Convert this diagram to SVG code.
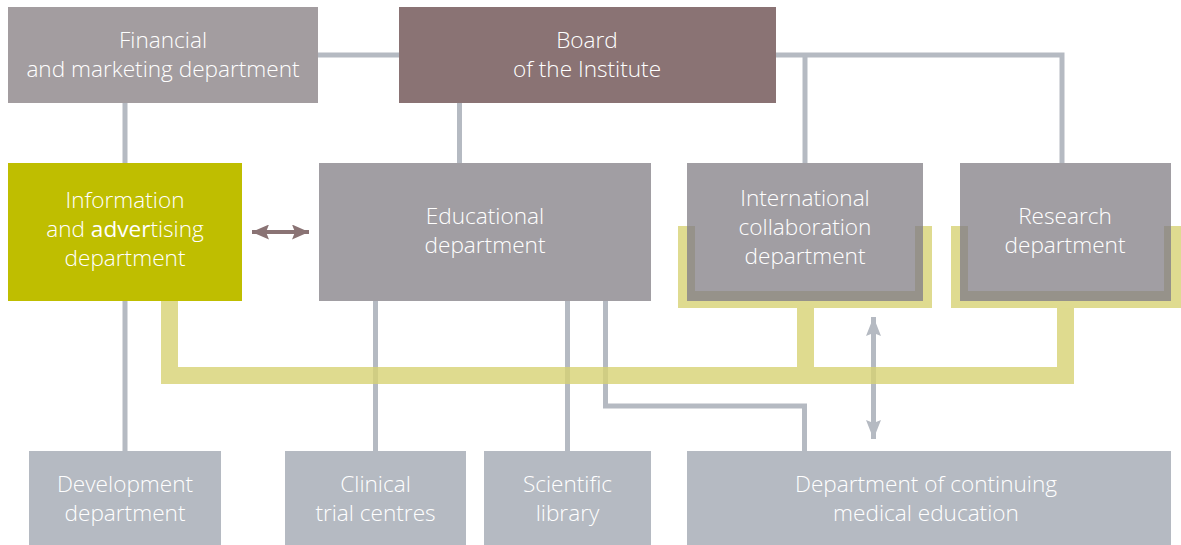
<svg xmlns="http://www.w3.org/2000/svg" width="1181" height="545" viewBox="0 0 1181 545">
<style>
.t{font-family:"Open Sans","Noto Sans","DejaVu Sans",sans-serif;font-size:22.6px;font-weight:350;fill:#ffffff;text-anchor:middle}
.g{stroke:#b5bac2;stroke-width:5;fill:none}
.mid{fill:#a19ea3}
.bot{fill:#b5bac2}
.yel{fill:#dfdb90}
.ov{fill:#96928a}
</style>
<defs>
<marker id="ag" viewBox="0 0 19 15" markerWidth="19" markerHeight="15" refX="19" refY="7.5" orient="auto-start-reverse" markerUnits="userSpaceOnUse">
<path d="M0,0 L19,7.5 L0,15 L3,7.5 Z" fill="#b5bac2"/>
</marker>
<marker id="ab" viewBox="0 0 17 15" markerWidth="17" markerHeight="15" refX="17" refY="7.5" orient="auto-start-reverse" markerUnits="userSpaceOnUse">
<path d="M0,0 L17,7.5 L0,15 L3,7.5 Z" fill="#8a7374"/>
</marker>
</defs>
<rect width="1181" height="545" fill="#ffffff"/>
<g id="connectors">
<path class="g" d="M318,55 H399"/>
<path class="g" d="M776,55 H1062 V163"/>
<path class="g" d="M805,55 V163"/>
<path class="g" d="M125,103 V451"/>
<path class="g" d="M459.5,103 V163"/>
<path class="g" d="M375.5,301 V451"/>
<path class="g" d="M567.5,301 V451"/>
<path class="g" d="M605.5,301 V406 H804.5 V451"/>
<path class="g" d="M873.5,317 V439" marker-start="url(#ag)" marker-end="url(#ag)"/>
<path d="M252,232 H309" stroke="#8a7374" stroke-width="4" fill="none" marker-start="url(#ab)" marker-end="url(#ab)"/>
<path d="M169.5,301 V375.5 H1065.5 V308" stroke="#d7d273" stroke-width="17" fill="none" opacity="0.8" stroke-linejoin="miter"/>
<rect x="797" y="308" width="17" height="59" fill="#d7d273" opacity="0.8"/>
</g>
<g id="frames">
<path class="yel" fill-rule="evenodd" d="M678,226 H932 V308 H678 Z M695,226 V291 H915 V226 Z"/>
<path class="yel" fill-rule="evenodd" d="M951,226 H1181 V308 H951 Z M968,226 V291 H1164 V226 Z"/>
</g>
<g id="financial">
<rect x="8" y="7" width="310" height="96" fill="#a39da0"/>
<text class="t" x="163" y="48">Financial</text>
<text class="t" x="163" y="77">and marketing department</text>
</g>
<g id="board">
<rect x="399" y="7" width="377" height="96" fill="#8a7374"/>
<text class="t" x="587" y="48">Board</text>
<text class="t" x="587" y="77">of the Institute</text>
</g>
<g id="information">
<rect x="8" y="163" width="234" height="138" fill="#bfbe00"/>
<text class="t" x="125" y="208">Information</text>
<text class="t" x="125" y="237">and <tspan font-weight="500">adver</tspan>tising</text>
<text class="t" x="125" y="266">department</text>
</g>
<g id="educational">
<rect class="mid" x="319" y="163" width="332" height="138"/>
<text class="t" x="485" y="224">Educational</text>
<text class="t" x="485" y="253">department</text>
</g>
<g id="international">
<rect class="mid" x="687" y="163" width="236" height="138"/>
<path class="ov" d="M687,226 H695 V291 H915 V226 H923 V301 H687 Z"/>
<text class="t" x="805" y="206">International</text>
<text class="t" x="805" y="235">collaboration</text>
<text class="t" x="805" y="264">department</text>
</g>
<g id="research">
<rect class="mid" x="960" y="163" width="211" height="138"/>
<path class="ov" d="M960,226 H968 V291 H1164 V226 H1171 V301 H960 Z"/>
<text class="t" x="1065" y="224">Research</text>
<text class="t" x="1065" y="253">department</text>
</g>
<g id="development">
<rect class="bot" x="29" y="451" width="192" height="94"/>
<text class="t" x="125" y="492">Development</text>
<text class="t" x="125" y="521">department</text>
</g>
<g id="clinical">
<rect class="bot" x="285" y="451" width="181" height="94"/>
<text class="t" x="375.5" y="492">Clinical</text>
<text class="t" x="375.5" y="521">trial centres</text>
</g>
<g id="library">
<rect class="bot" x="484" y="451" width="167" height="94"/>
<text class="t" x="567.5" y="492">Scientific</text>
<text class="t" x="567.5" y="521">library</text>
</g>
<g id="cme">
<rect class="bot" x="687" y="451" width="484" height="94"/>
<text class="t" x="926" y="492">Department of continuing</text>
<text class="t" x="926" y="521">medical education</text>
</g>
</svg>
